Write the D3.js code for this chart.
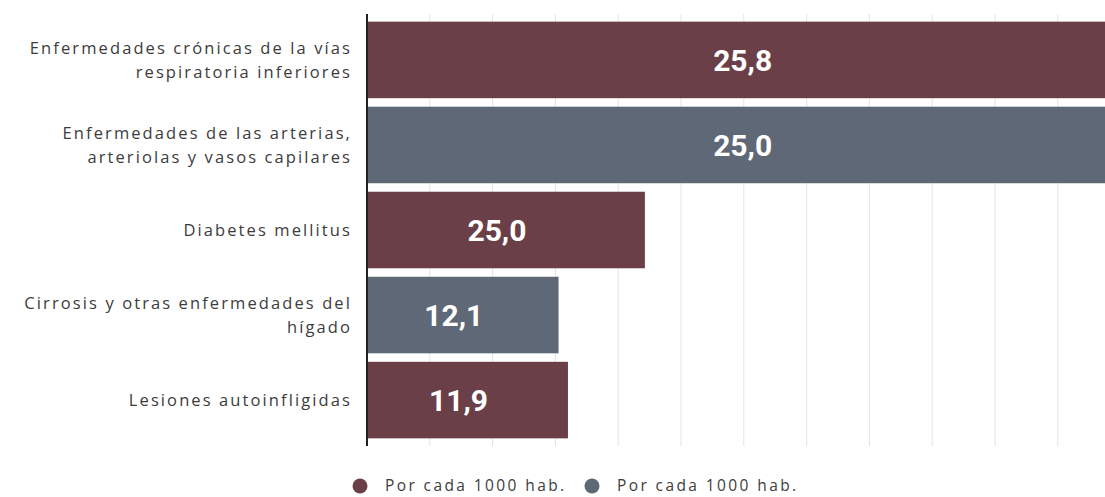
<!DOCTYPE html>
<html><head><meta charset="utf-8">
<script src="https://cdn.jsdelivr.net/npm/d3@7"></script>
<style>body{margin:0;background:#fff;} svg{display:block;}</style>
</head><body>
<svg id="chart" width="1105" height="497"></svg>
<script>
const categories = [
  ["Enfermedades crónicas de la vías", "respiratoria inferiores"],
  ["Enfermedades de las arterias,", "arteriolas y vasos capilares"],
  ["Diabetes mellitus"],
  ["Cirrosis y otras enfermedades del", "hígado"],
  ["Lesiones autoinfligidas"]
];
// bar lengths as drawn in the picture
const values = [49, 49, 17.7, 12.2, 12.8];
// printed value labels
const valueLabels = ["25,8", "25,0", "25,0", "12,1", "11,9"];
const seriesIndex = [0, 1, 0, 1, 0];
const seriesNames = ["Por cada 1000 hab.", "Por cada 1000 hab."];
const colors = ["#6b3f48", "#5f6877"];
const gridTicks = d3.range(0, 48, 4);

const svg = d3.select("#chart");
const plotLeft = 367, plotTop = 14, plotBottom = 446;
const x = d3.scaleLinear().domain([0, 4]).range([plotLeft, plotLeft + 62.8]);
const y = d3.scaleBand().domain(d3.range(categories.length)).range([plotTop, plotBottom]).paddingInner(0.1).paddingOuter(0.09);

svg.append("g").selectAll("line").data(gridTicks.slice(1)).join("line")
  .attr("x1", d => x(d)).attr("x2", d => x(d))
  .attr("y1", plotTop).attr("y2", plotBottom)
  .attr("stroke", "#e4e4e4").attr("stroke-width", 1);

svg.append("g").selectAll("rect").data(values).join("rect")
  .attr("x", x(0)).attr("y", (d, i) => y(i))
  .attr("width", d => x(d) - x(0)).attr("height", y.bandwidth())
  .attr("fill", (d, i) => colors[seriesIndex[i]]);

svg.append("g").selectAll("text").data(values).join("text")
  .attr("x", d => (x(0) + Math.min(x(d), 1141)) / 2 - 9)
  .attr("y", (d, i) => y(i) + y.bandwidth() / 2)
  .attr("dy", "0.36em")
  .attr("text-anchor", "middle")
  .attr("fill", "#fff")
  .attr("font-family", "Roboto, sans-serif")
  .attr("font-weight", "bold")
  .attr("font-size", 30)
  .text((d, i) => valueLabels[i]);

svg.append("line").attr("x1", plotLeft).attr("x2", plotLeft).attr("y1", plotTop).attr("y2", plotBottom)
  .attr("stroke", "#222").attr("stroke-width", 2);

const cat = svg.append("g").selectAll("text").data(categories).join("text")
  .attr("text-anchor", "end")
  .attr("fill", "#3c3c3c")
  .attr("font-family", "'Open Sans', sans-serif")
  .attr("font-size", 16.5)
  .attr("letter-spacing", 2.1)
  .attr("x", 352)
  .attr("y", (d, i) => y(i) + y.bandwidth() / 2);
cat.selectAll("tspan").data(d => d.map((t, j) => ({t, j, n: d.length}))).join("tspan")
  .attr("x", 352)
  .attr("dy", (d) => d.j === 0 ? (d.n === 1 ? 6 : -6) + "px" : "24px")
  .text(d => d.t);

const legend = svg.append("g");
const legX = [360, 592];
legend.selectAll("circle").data(seriesNames).join("circle")
  .attr("cx", (d, i) => legX[i]).attr("cy", 486).attr("r", 7.5)
  .attr("fill", (d, i) => colors[i]);
legend.selectAll("text").data(seriesNames).join("text")
  .attr("x", (d, i) => legX[i] + 25).attr("y", 491)
  .attr("fill", "#3c3c3c")
  .attr("font-family", "'Open Sans', sans-serif")
  .attr("font-size", 15.5)
  .attr("letter-spacing", 2.4)
  .text(d => d);
</script>
</body></html>
